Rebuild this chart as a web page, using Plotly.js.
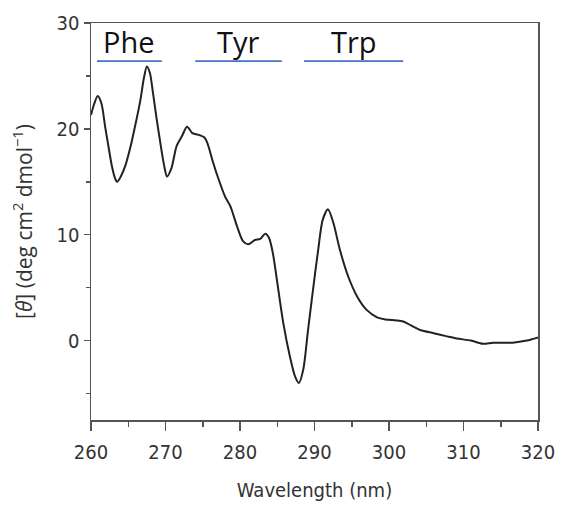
<!DOCTYPE html>
<html>
<head>
<meta charset="utf-8">
<script src="https://cdn.plot.ly/plotly-3.0.1.min.js"></script>
<style>html,body{margin:0;padding:0;background:#fff;}#chart{width:566px;height:510px;}</style>
</head>
<body>
<div id="chart"></div>
<script>
// Wavelength (nm)
const wavelength = [260, 260.4, 260.9, 261.4, 261.9, 262.4, 262.8, 263.2, 263.5, 264.0, 264.6, 265.3, 265.9, 266.6, 267.1, 267.5, 267.9, 268.3, 268.8, 269.3, 269.8, 270.2, 270.8, 271.5, 272.2, 272.9, 273.6, 274.6, 275.2, 275.6, 276.4, 277.0, 278.0, 278.7, 279.6, 280.4, 281.1, 282.0, 282.7, 283.4, 283.9, 284.4, 285.0, 285.8, 286.7, 287.4, 287.9, 288.5, 289.1, 289.8, 290.5, 291.1, 291.8, 292.5, 293.4, 294.5, 295.7, 297.0, 298.4, 299.5, 301.0, 301.9, 302.5, 304.2, 306.0, 307.8, 309.1, 311.0, 312.6, 314.0, 316.6, 318.5, 320];
// Molar ellipticity [θ] (deg cm² dmol⁻¹)
const theta = [21.3, 22.3, 23.1, 22.4, 20.2, 18.1, 16.5, 15.4, 15.0, 15.5, 16.5, 18.3, 20.2, 22.6, 24.8, 25.9, 25.3, 23.5, 21.0, 18.7, 16.6, 15.5, 16.3, 18.4, 19.3, 20.2, 19.6, 19.4, 19.2, 18.7, 16.8, 15.5, 13.6, 12.7, 10.8, 9.4, 9.1, 9.5, 9.6, 10.1, 9.7, 8.3, 5.5, 1.7, -1.5, -3.4, -4.0, -2.7, 0.8, 4.8, 8.6, 11.4, 12.4, 11.2, 8.6, 6.1, 4.2, 2.9, 2.2, 2.0, 1.9, 1.8, 1.6, 1.0, 0.7, 0.4, 0.2, 0.0, -0.3, -0.2, -0.2, 0.0, 0.3];
// Region labels and their wavelength spans
const regionLabels = ['Phe', 'Tyr', 'Trp'];
const regionStart = [260.8, 274.0, 288.6];
const regionEnd = [269.5, 285.6, 301.9];
const xTickVals = [260, 270, 280, 290, 300, 310, 320];
const yTickVals = [0, 10, 20, 30];

const narrow = '"DejaVu Sans Condensed", "DejaVu Sans", sans-serif';
const tickFont = {family: narrow, size: 20, color: '#333', stretch: 'condensed'};

const shapes = [];
const annotations = [];
regionLabels.forEach((lab, i) => {
  shapes.push({type: 'line', xref: 'x', yref: 'y', x0: regionStart[i], x1: regionEnd[i], y0: 26.4, y1: 26.4,
    line: {color: '#4472C4', width: 1.6}});
  annotations.push({xref: 'x', yref: 'y', x: (regionStart[i] + regionEnd[i]) / 2, y: 26.25, text: lab,
    showarrow: false, yanchor: 'bottom', xanchor: 'center',
    font: {family: '"Open Sans", "Noto Sans", sans-serif', size: 29, color: '#111'}});
});

const trace = {
  x: wavelength, y: theta, type: 'scatter', mode: 'lines',
  line: {color: '#222', width: 2, shape: 'spline', smoothing: 0.8},
  hoverinfo: 'skip'
};

const layout = {
  width: 566, height: 510,
  margin: {l: 91, r: 28, t: 23, b: 90},
  paper_bgcolor: '#fff', plot_bgcolor: '#fff',
  showlegend: false,
  xaxis: {
    range: [260, 320], tickvals: xTickVals, ticktext: xTickVals.map(String),
    ticks: 'outside', ticklen: 9, tickwidth: 1.5, tickcolor: '#555',
    minor: {dtick: 5, ticks: 'outside', ticklen: 5, tickwidth: 1.5, tickcolor: '#555'},
    showline: true, linecolor: '#555', linewidth: 1.5, mirror: true,
    showgrid: false, zeroline: false,
    ticklabelstandoff: 4,
    tickfont: tickFont,
    title: {text: 'Wavelength (nm)', font: {family: narrow, size: 20, color: '#333', stretch: 'condensed'}, standoff: 20}
  },
  yaxis: {
    range: [-7.5, 30], tickvals: yTickVals, ticktext: yTickVals.map(String),
    ticks: 'outside', ticklen: 6, tickwidth: 1.5, tickcolor: '#555',
    minor: {dtick: 5, ticks: 'outside', ticklen: 4, tickwidth: 1.5, tickcolor: '#555'},
    showline: true, linecolor: '#555', linewidth: 1.5, mirror: true,
    showgrid: false, zeroline: false,
    ticklabelstandoff: 0,
    tickfont: tickFont,
    title: {text: '[<i>θ</i>] (deg cm<sup>2</sup> dmol<sup>−1</sup>)', font: {family: '"Open Sans", "Noto Sans", sans-serif', size: 21, color: '#333'}, standoff: 18}
  },
  shapes: shapes,
  annotations: annotations
};

Plotly.newPlot('chart', [trace], layout, {displayModeBar: false, staticPlot: true});
</script>
</body>
</html>
